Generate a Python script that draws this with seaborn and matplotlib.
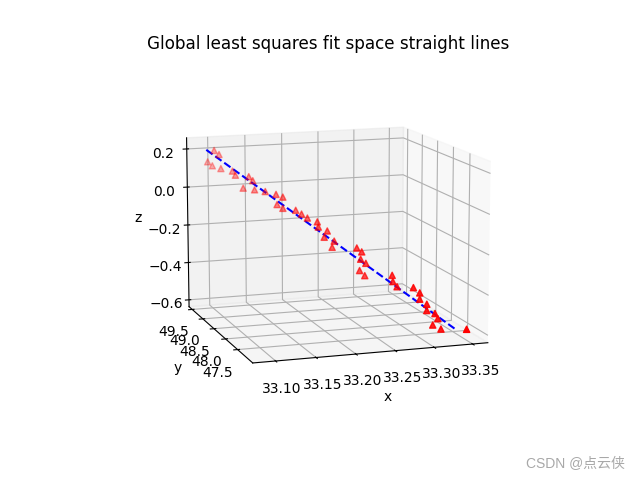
import matplotlib
matplotlib.use('Agg')
import matplotlib.pyplot as plt
import seaborn as sns

sns.reset_orig()
plt.rcParams['font.family'] = ['DejaVu Sans', 'Noto Sans CJK SC']

# points
xs = [33.1023, 33.1073, 33.0953, 33.1003, 33.1093, 33.1213, 33.1243, 33.1323, 33.1383, 33.1423, 33.1443,
      33.1553, 33.1663, 33.1733, 33.1673, 33.1733, 33.1863, 33.1923, 33.1983, 33.2083, 33.2093, 33.2183,
      33.2153, 33.2253, 33.2233, 33.2483, 33.2533, 33.2523, 33.2573, 33.2513, 33.2563, 33.2833, 33.2843,
      33.2883, 33.3043, 33.3103, 33.3103, 33.3173, 33.3173, 33.3253, 33.3283, 33.3233, 33.3313, 33.3553]
ys = [49.44, 49.39, 49.50, 49.46, 49.38, 49.27, 49.24, 49.17, 49.12, 49.08, 49.07,
      48.97, 48.87, 48.81, 48.86, 48.81, 48.69, 48.64, 48.59, 48.50, 48.49, 48.41,
      48.44, 48.35, 48.37, 48.16, 48.12, 48.13, 48.08, 48.14, 48.09, 47.85, 47.85,
      47.81, 47.67, 47.61, 47.61, 47.55, 47.55, 47.48, 47.46, 47.50, 47.43, 47.20]
zs = [0.200, 0.181, 0.138, 0.119, 0.108, 0.100, 0.080, 0.016, 0.078, 0.059, 0.012,
      0.008, -0.002, -0.013, -0.054, -0.071, -0.075, -0.092, -0.110, -0.125, -0.151, -0.167,
      -0.201, -0.216, -0.249, -0.241, -0.259, -0.297, -0.315, -0.356, -0.379, -0.363, -0.395,
      -0.419, -0.415, -0.438, -0.470, -0.492, -0.524, -0.535, -0.560, -0.595, -0.611, -0.596]
line_x = [33.094, 33.344]
line_y = [49.51, 47.30]
line_z = [0.20, -0.60]

x_ticks = [33.10, 33.15, 33.20, 33.25, 33.30, 33.35]
y_ticks = [47.5, 48.0, 48.5, 49.0, 49.5]
z_ticks = [-0.6, -0.4, -0.2, 0.0, 0.2]

fig = plt.figure(figsize=(6.4, 4.8), dpi=100)
ax = fig.add_subplot(projection='3d')
ax.scatter(xs, ys, zs, c='r', marker='^')
ax.plot(line_x, line_y, line_z, c='b', linestyle='--')
ax.set_xlabel('x')
ax.set_ylabel('y')
ax.set_zlabel('z')
ax.set_xticks(x_ticks)
ax.set_yticks(y_ticks)
ax.set_zticks(z_ticks)
ax.set_xlim(33.072, 33.37)
ax.set_ylim(46.9, 49.65)
ax.set_zlim(-0.637, 0.258)
ax.view_init(elev=11.5, azim=-108.5)
ax.set_title('Global least squares fit space straight lines', fontsize=12.03)

fig.text(0.977, 0.033, 'CSDN @点云侠', ha='right', va='center', fontsize=10,
         family=['Liberation Sans', 'Noto Sans CJK SC'], color='#a8a8a8')
fig.savefig('out.png', dpi=100)
